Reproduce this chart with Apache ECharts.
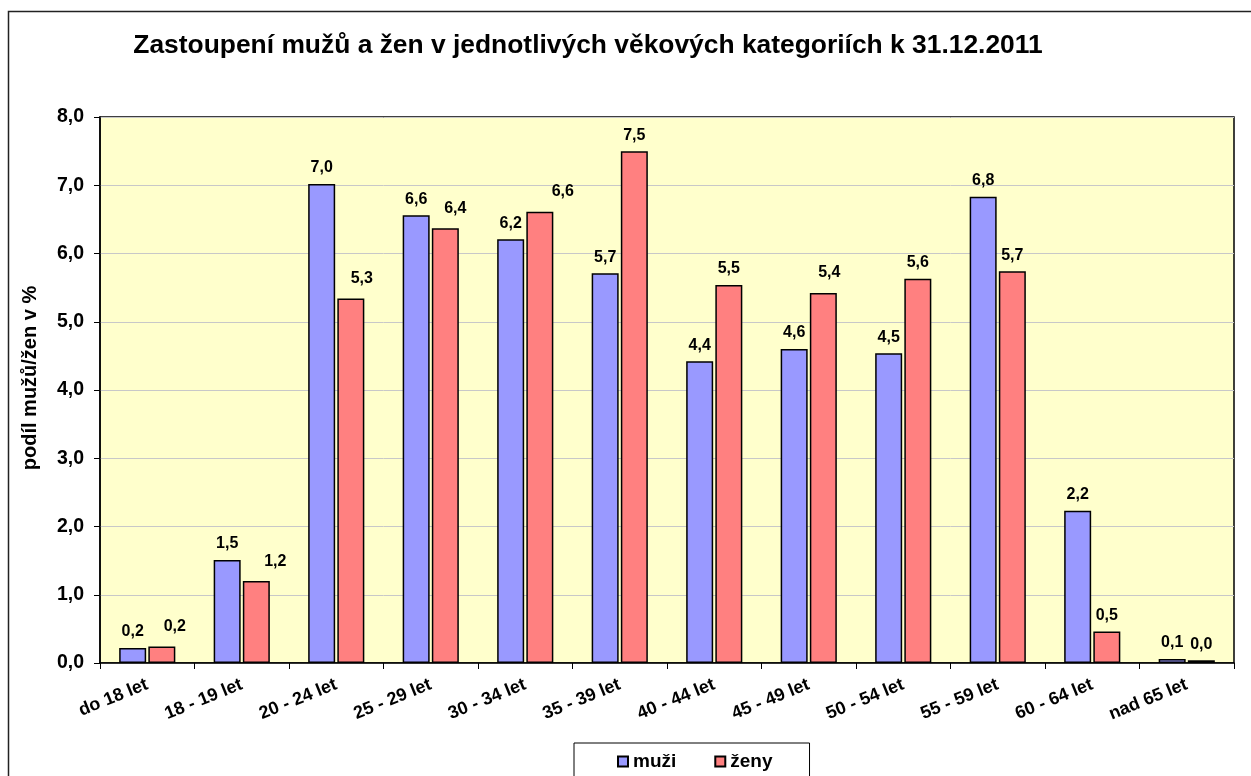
<!DOCTYPE html>
<html>
<head>
<meta charset="utf-8">
<script src="https://cdn.jsdelivr.net/npm/echarts@6/dist/echarts.min.js"></script>
<style>
  html, body { margin: 0; padding: 0; background: #fff; }
  #chart { width: 1251px; height: 776px; }
</style>
</head>
<body>
<div id="chart"></div>
<script>
const categories = ['do 18 let', '18 - 19 let', '20 - 24 let', '25 - 29 let', '30 - 34 let', '35 - 39 let',
  '40 - 44 let', '45 - 49 let', '50 - 54 let', '55 - 59 let', '60 - 64 let', 'nad 65 let']
const muzi = [0.22, 1.51, 7.02, 6.56, 6.21, 5.71, 4.42, 4.6, 4.54, 6.83, 2.23, 0.06]
const zeny = [0.24, 1.2, 5.34, 6.37, 6.61, 7.5, 5.54, 5.42, 5.63, 5.74, 0.46, 0.04]
const yTicks = [0, 1, 2, 3, 4, 5, 6, 7, 8]

const font = 'Arial, "Liberation Sans", sans-serif'
const fmt = (v) => v.toFixed(1).replace('.', ',')

const chart = echarts.init(document.getElementById('chart'))

const labelStyle = {
  show: true,
  position: 'top',
  distance: 8,
  color: '#000',
  fontFamily: font,
  fontWeight: 'bold',
  fontSize: 16,
  formatter: (p) => fmt(p.value)
}

// some of the women's labels sit a bit right of their bar in the original
const zenyLabelShift = { 0: 13, 1: 19, 2: 11, 3: 10, 4: 23, 7: 6 }

chart.setOption({
  animation: false,
  textStyle: { fontFamily: font },
  title: {
    text: 'Zastoupení mužů a žen v jednotlivých věkových kategoriích k 31.12.2011',
    left: 583,
    textAlign: 'center',
    top: 28,
    textStyle: { fontFamily: font, fontWeight: 'bold', fontSize: 26.4, color: '#000' }
  },
  graphic: [
    {
      type: 'rect',
      shape: { x: 8.5, y: 11.5, width: 1300, height: 900 },
      style: { fill: 'none', stroke: '#222', lineWidth: 1.5 },
      silent: true
    }
  ],
  legend: {
    left: 574,
    top: 743,
    data: ['muži', 'ženy'],
    icon: 'rect',
    itemWidth: 10,
    itemHeight: 10,
    itemGap: 38,
    padding: [9, 37, 14, 43],
    borderColor: '#000',
    borderWidth: 1,
    textStyle: { fontFamily: font, fontWeight: 'bold', fontSize: 19, color: '#000' }
  },
  grid: {
    left: 100,
    top: 117,
    width: 1134,
    height: 546,
    show: true,
    backgroundColor: '#FFFFCC',
    borderColor: '#000',
    borderWidth: 1.5
  },
  xAxis: {
    type: 'category',
    data: categories,
    axisLine: { lineStyle: { color: '#000', width: 1.5 } },
    axisTick: { show: true, length: 6, lineStyle: { color: '#000' } },
    axisLabel: {
      interval: 0,
      rotate: 22,
      margin: 21,
      color: '#000',
      fontFamily: font,
      fontWeight: 'bold',
      fontSize: 18
    }
  },
  yAxis: {
    type: 'value',
    min: yTicks[0],
    max: yTicks[yTicks.length - 1],
    interval: 1,
    name: 'podíl mužů/žen v %',
    nameLocation: 'middle',
    nameGap: 60,
    nameTextStyle: { fontFamily: font, fontWeight: 'bold', fontSize: 20, color: '#000', padding: [0, 0, 0, 24] },
    axisLine: { show: true, lineStyle: { color: '#000', width: 1.5 } },
    axisTick: { show: true, length: 6, lineStyle: { color: '#000' } },
    axisLabel: {
      margin: 16,
      color: '#000',
      fontFamily: font,
      fontWeight: 'bold',
      fontSize: 19.5,
      formatter: (v) => fmt(v)
    },
    splitLine: { lineStyle: { color: '#C8C8C8', width: 1 } }
  },
  series: [
    {
      name: 'muži',
      type: 'bar',
      data: muzi,
      barWidth: 27,
      barGap: '8%',
      itemStyle: { color: '#9999FF', borderColor: '#000', borderWidth: 1.5 },
      label: labelStyle
    },
    {
      name: 'ženy',
      type: 'bar',
      data: zeny.map((v, i) => (zenyLabelShift[i]
        ? { value: v, label: { offset: [zenyLabelShift[i], -4] } }
        : v)),
      barWidth: 27,
      itemStyle: { color: '#FF8080', borderColor: '#000', borderWidth: 1.5 },
      label: labelStyle
    }
  ]
})
</script>
</body>
</html>
